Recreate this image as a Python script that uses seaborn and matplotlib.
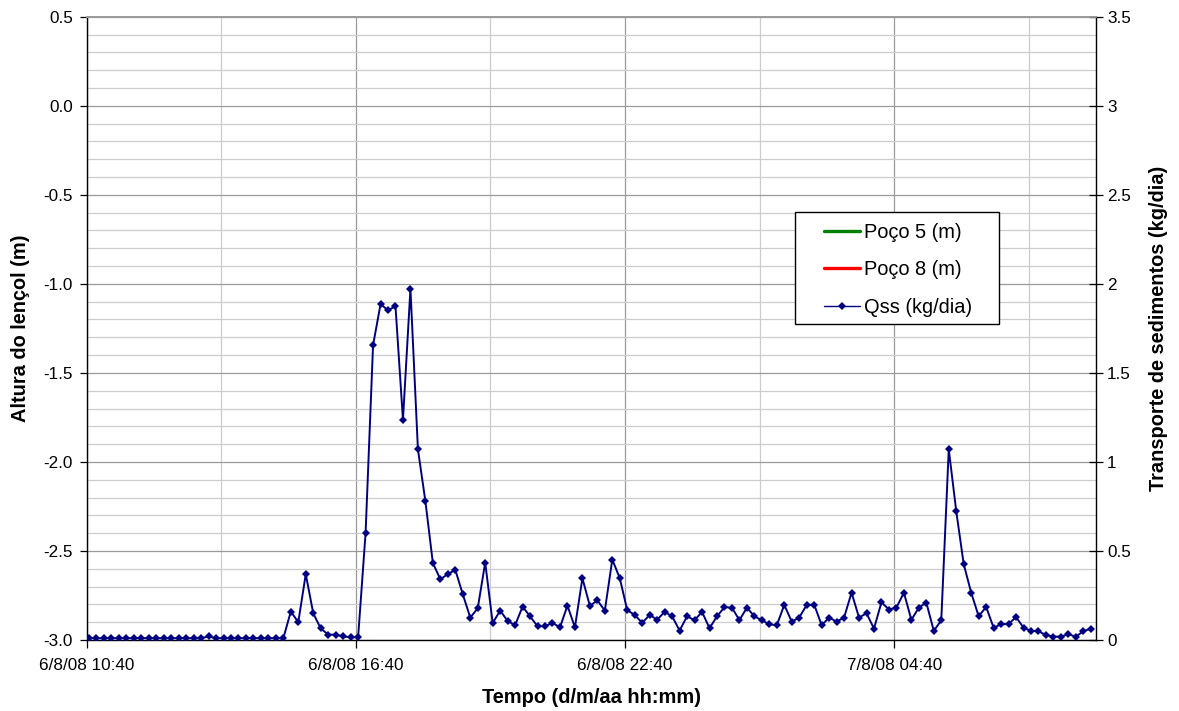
import pandas as pd
import matplotlib
matplotlib.use("Agg")
import matplotlib.pyplot as plt
import matplotlib.ticker as mticker
from matplotlib.patches import Rectangle
import seaborn as sns

sns.set_theme(style="white")
plt.rcParams.update({
    'font.family': ['Liberation Sans', 'DejaVu Sans'],
    'axes.unicode_minus': False,
    'font.size': 12,
    'text.color': 'black',
    'axes.labelcolor': 'black',
    'xtick.color': 'black',
    'ytick.color': 'black',
})

# Qss (kg/dia), one reading every 10 minutes starting 6/8/08 10:43
start_time = "2008-08-06 10:43"
step = "10min"
qss = [
    0.01, 0.01, 0.01, 0.01, 0.01, 0.01, 0.01, 0.01, 0.01, 0.01,
    0.01, 0.01, 0.01, 0.01, 0.01, 0.01, 0.02, 0.01, 0.01, 0.01,
    0.01, 0.01, 0.01, 0.01, 0.01, 0.01, 0.01, 0.16, 0.10, 0.37,
    0.15, 0.065, 0.03, 0.03, 0.02, 0.015, 0.015, 0.60, 1.655, 1.886,
    1.852, 1.874, 1.236, 1.972, 1.071, 0.779, 0.432, 0.341, 0.370, 0.394,
    0.257, 0.126, 0.178, 0.435, 0.095, 0.165, 0.107, 0.083, 0.188, 0.133,
    0.077, 0.077, 0.096, 0.071, 0.193, 0.071, 0.347, 0.191, 0.223, 0.165,
    0.452, 0.347, 0.167, 0.141, 0.096, 0.141, 0.114, 0.158, 0.133, 0.053,
    0.133, 0.111, 0.158, 0.066, 0.133, 0.184, 0.182, 0.111, 0.182, 0.133,
    0.111, 0.088, 0.083, 0.197, 0.103, 0.126, 0.197, 0.199, 0.083, 0.126,
    0.103, 0.126, 0.266, 0.126, 0.150, 0.064, 0.212, 0.171, 0.182, 0.266,
    0.113, 0.182, 0.210, 0.051, 0.111, 1.071, 0.724, 0.426, 0.266, 0.133,
    0.186, 0.069, 0.088, 0.090, 0.129, 0.069, 0.051, 0.049, 0.028, 0.019,
    0.019, 0.032, 0.019, 0.049, 0.064,
]
# well series are listed in the legend but carry no readings in this window
poco5 = []
poco8 = []

x_start = pd.Timestamp("2008-08-06 10:40")
x_end = pd.Timestamp("2008-08-07 09:10")
major_ticks = pd.date_range(x_start, periods=4, freq="6h")
minor_ticks = pd.date_range(x_start + pd.Timedelta("3h"), periods=4, freq="6h")

df = pd.DataFrame({
    'tempo': pd.date_range(start_time, periods=len(qss), freq=step),
    'qss': qss,
})

fig = plt.figure(figsize=(11.79, 7.11), dpi=100)
ax = fig.add_axes([0.07354, 0.09986, 0.8561, 0.8766])

# left axis: water table (empty series)
ax.plot(df['tempo'][:len(poco5)], poco5, color='#008000', lw=2.4, label='Poço 5 (m)')
ax.plot(df['tempo'][:len(poco8)], poco8, color='#ff0000', lw=2.4, label='Poço 8 (m)')
ax.set_xlim(x_start, x_end)
ax.set_ylim(-3.0, 0.5)

# right axis: sediment transport
ax2 = ax.twinx()
sns.lineplot(data=df, x='tempo', y='qss', ax=ax2, color='#000080', lw=1.4,
             marker='D', markersize=4.4, markeredgewidth=0, label='Qss (kg/dia)')
ax2.get_legend().remove()
ax2.set_ylim(0, 3.5)
ax2.set_xlim(x_start, x_end)

# grid
major_col, minor_col = '#9a9a9a', '#cdcdcd'
ax.yaxis.set_major_locator(mticker.MultipleLocator(0.5))
ax.yaxis.set_minor_locator(mticker.MultipleLocator(0.1))
ax.yaxis.set_major_formatter(mticker.FormatStrFormatter('%.1f'))
ax.xaxis.set_major_locator(mticker.FixedLocator(matplotlib.dates.date2num(major_ticks)))
ax.xaxis.set_minor_locator(mticker.FixedLocator(matplotlib.dates.date2num(minor_ticks)))
ax.xaxis.set_major_formatter(mticker.FuncFormatter(
    lambda v, p: (lambda d: f"{d.day}/{d.month}/{d.strftime('%y %H:%M')}")(matplotlib.dates.num2date(v))))
ax.grid(True, which='major', color=major_col, lw=0.9)
ax.grid(True, which='minor', color=minor_col, lw=0.9)
ax.set_axisbelow(True)

ax2.yaxis.set_major_locator(mticker.MultipleLocator(0.5))
ax2.yaxis.set_major_formatter(mticker.FormatStrFormatter('%g'))
ax2.grid(False)

# ticks and spines
ax.tick_params(axis='y', which='major', direction='out', length=5, width=0.9, color='black',
               labelsize=12.3, pad=5, left=True)
ax.tick_params(axis='y', which='minor', length=0)
ax.tick_params(axis='x', which='major', direction='out', length=6, width=0.9, color='black',
               labelsize=12.3, pad=7, bottom=True)
ax.tick_params(axis='x', which='minor', length=0)
ax2.tick_params(axis='y', which='major', direction='inout', length=10, width=0.9, color='black',
                labelsize=12.3, pad=3, right=True)

for s in ['left', 'bottom']:
    ax.spines[s].set_color('black')
    ax.spines[s].set_linewidth(1.0)
ax.spines['right'].set_visible(False)
ax.spines['top'].set_color(major_col)
ax2.spines['right'].set_color('black')
ax2.spines['right'].set_linewidth(1.0)
ax2.spines['top'].set_color(major_col)
ax2.spines['left'].set_visible(False)
ax2.spines['bottom'].set_visible(False)

# labels
ax.set_xlabel('Tempo (d/m/aa hh:mm)', fontsize=14.4, fontweight='bold')
ax.xaxis.set_label_coords(0.5, -0.093)
ax.xaxis.label.set_va('center')
ax.set_ylabel('Altura do lençol (m)', fontsize=14.4, fontweight='bold')
ax.yaxis.set_label_coords(-0.066, 0.5)
ax.yaxis.label.set_va('center')
ax2.set_ylabel('Transporte de sedimentos (kg/dia)', fontsize=14.4, fontweight='bold')
ax2.yaxis.set_label_coords(1.062, 0.5)
ax2.yaxis.label.set_va('center')

# legend with Excel-like boxed frame
ax2.add_patch(Rectangle((0.7018, 0.507), 0.2021, 0.1797, transform=ax2.transAxes,
                        facecolor='white', edgecolor='black', lw=1.0, zorder=4))
handles = ax.get_lines()[:2] + ax2.get_lines()[:1]
labels = ['Poço 5 (m)', 'Poço 8 (m)', 'Qss (kg/dia)']
leg = ax2.legend(handles, labels, loc='upper left', bbox_to_anchor=(0.7305, 0.6698),
                 frameon=False, borderpad=0, borderaxespad=0, handlelength=1.8,
                 handletextpad=0.2, labelspacing=0.94, fontsize=14.4)
leg.set_zorder(5)
leg.get_lines()[2].set_linewidth(1.0)

fig.savefig("out.png", dpi=100)
plt.close(fig)
